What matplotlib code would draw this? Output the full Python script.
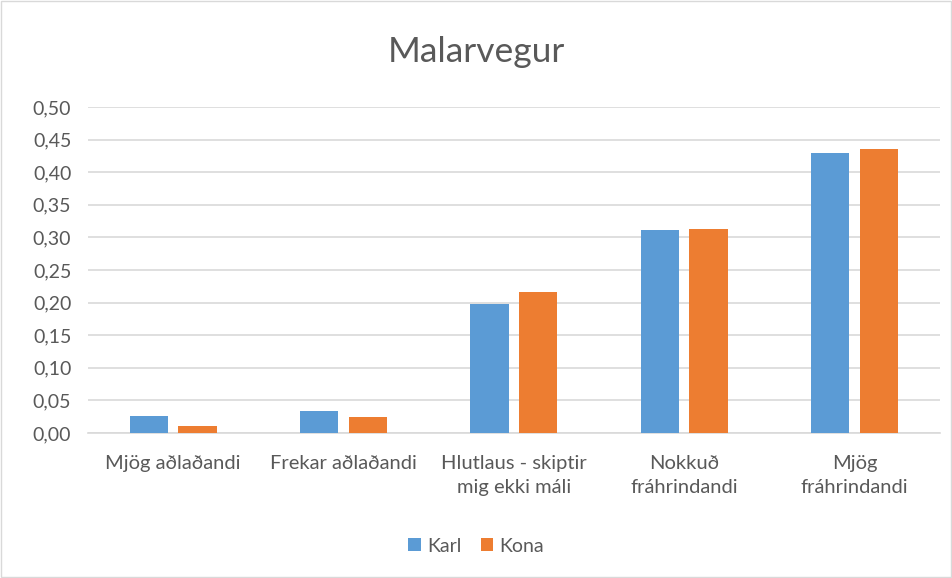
import matplotlib.pyplot as plt
import numpy as np
from matplotlib.patches import Rectangle

categories = ["Mjög aðlaðandi", "Frekar aðlaðandi", "Hlutlaus - skiptir\nmig ekki máli",
              "Nokkuð\nfráhrindandi", "Mjög\nfráhrindandi"]
karl = [0.026, 0.033, 0.198, 0.311, 0.429]
kona = [0.011, 0.025, 0.216, 0.313, 0.436]
yticks = np.arange(0, 0.501, 0.05)
ytick_labels = ["{:.2f}".format(v).replace(".", ",") for v in yticks]

plt.rcParams['font.family'] = ['Lato', 'DejaVu Sans']
text_color = '#595959'

fig = plt.figure(figsize=(9.52, 5.78), dpi=100)
ax = fig.add_axes([0.0924, 0.2509, 0.8946, 0.5641])

x = np.arange(len(categories))
w = 0.225
gap = 0.06
ax.bar(x - (w + gap) / 2, karl, w, color='#5B9BD5', label='Karl', zorder=3)
ax.bar(x + (w + gap) / 2, kona, w, color='#ED7D31', label='Kona', zorder=3)

ax.set_xlim(-0.5, len(categories) - 0.5)
ax.set_ylim(0, 0.5)
ax.set_yticks(yticks)
ax.set_yticklabels(ytick_labels, fontsize=14, color=text_color)
ax.set_xticks(x)
ax.set_xticklabels(categories, fontsize=14.5, color=text_color, linespacing=1.45)
ax.tick_params(axis='both', length=0)
ax.tick_params(axis='x', pad=16)
ax.tick_params(axis='y', pad=12)
ax.grid(axis='y', color='#D9D9D9', linewidth=1.2, zorder=0)
for s in ['top', 'right', 'left']:
    ax.spines[s].set_visible(False)
ax.spines['bottom'].set_color('#D9D9D9')
ax.spines['bottom'].set_linewidth(1.2)

fig.text(0.5, 0.91, 'Malarvegur', ha='center', va='center', fontsize=25.5, color=text_color)

fig.legend(loc='center', bbox_to_anchor=(0.5, 0.055), ncol=2, frameon=False,
           fontsize=14, labelcolor=text_color, handlelength=0.65, handleheight=0.65,
           handletextpad=0.3, columnspacing=1.0)

fig.patches.append(Rectangle((0.001, 0.001), 0.998, 0.998, transform=fig.transFigure,
                             fill=False, edgecolor='#D9D9D9', linewidth=1))

fig.savefig('out.png', dpi=100)
